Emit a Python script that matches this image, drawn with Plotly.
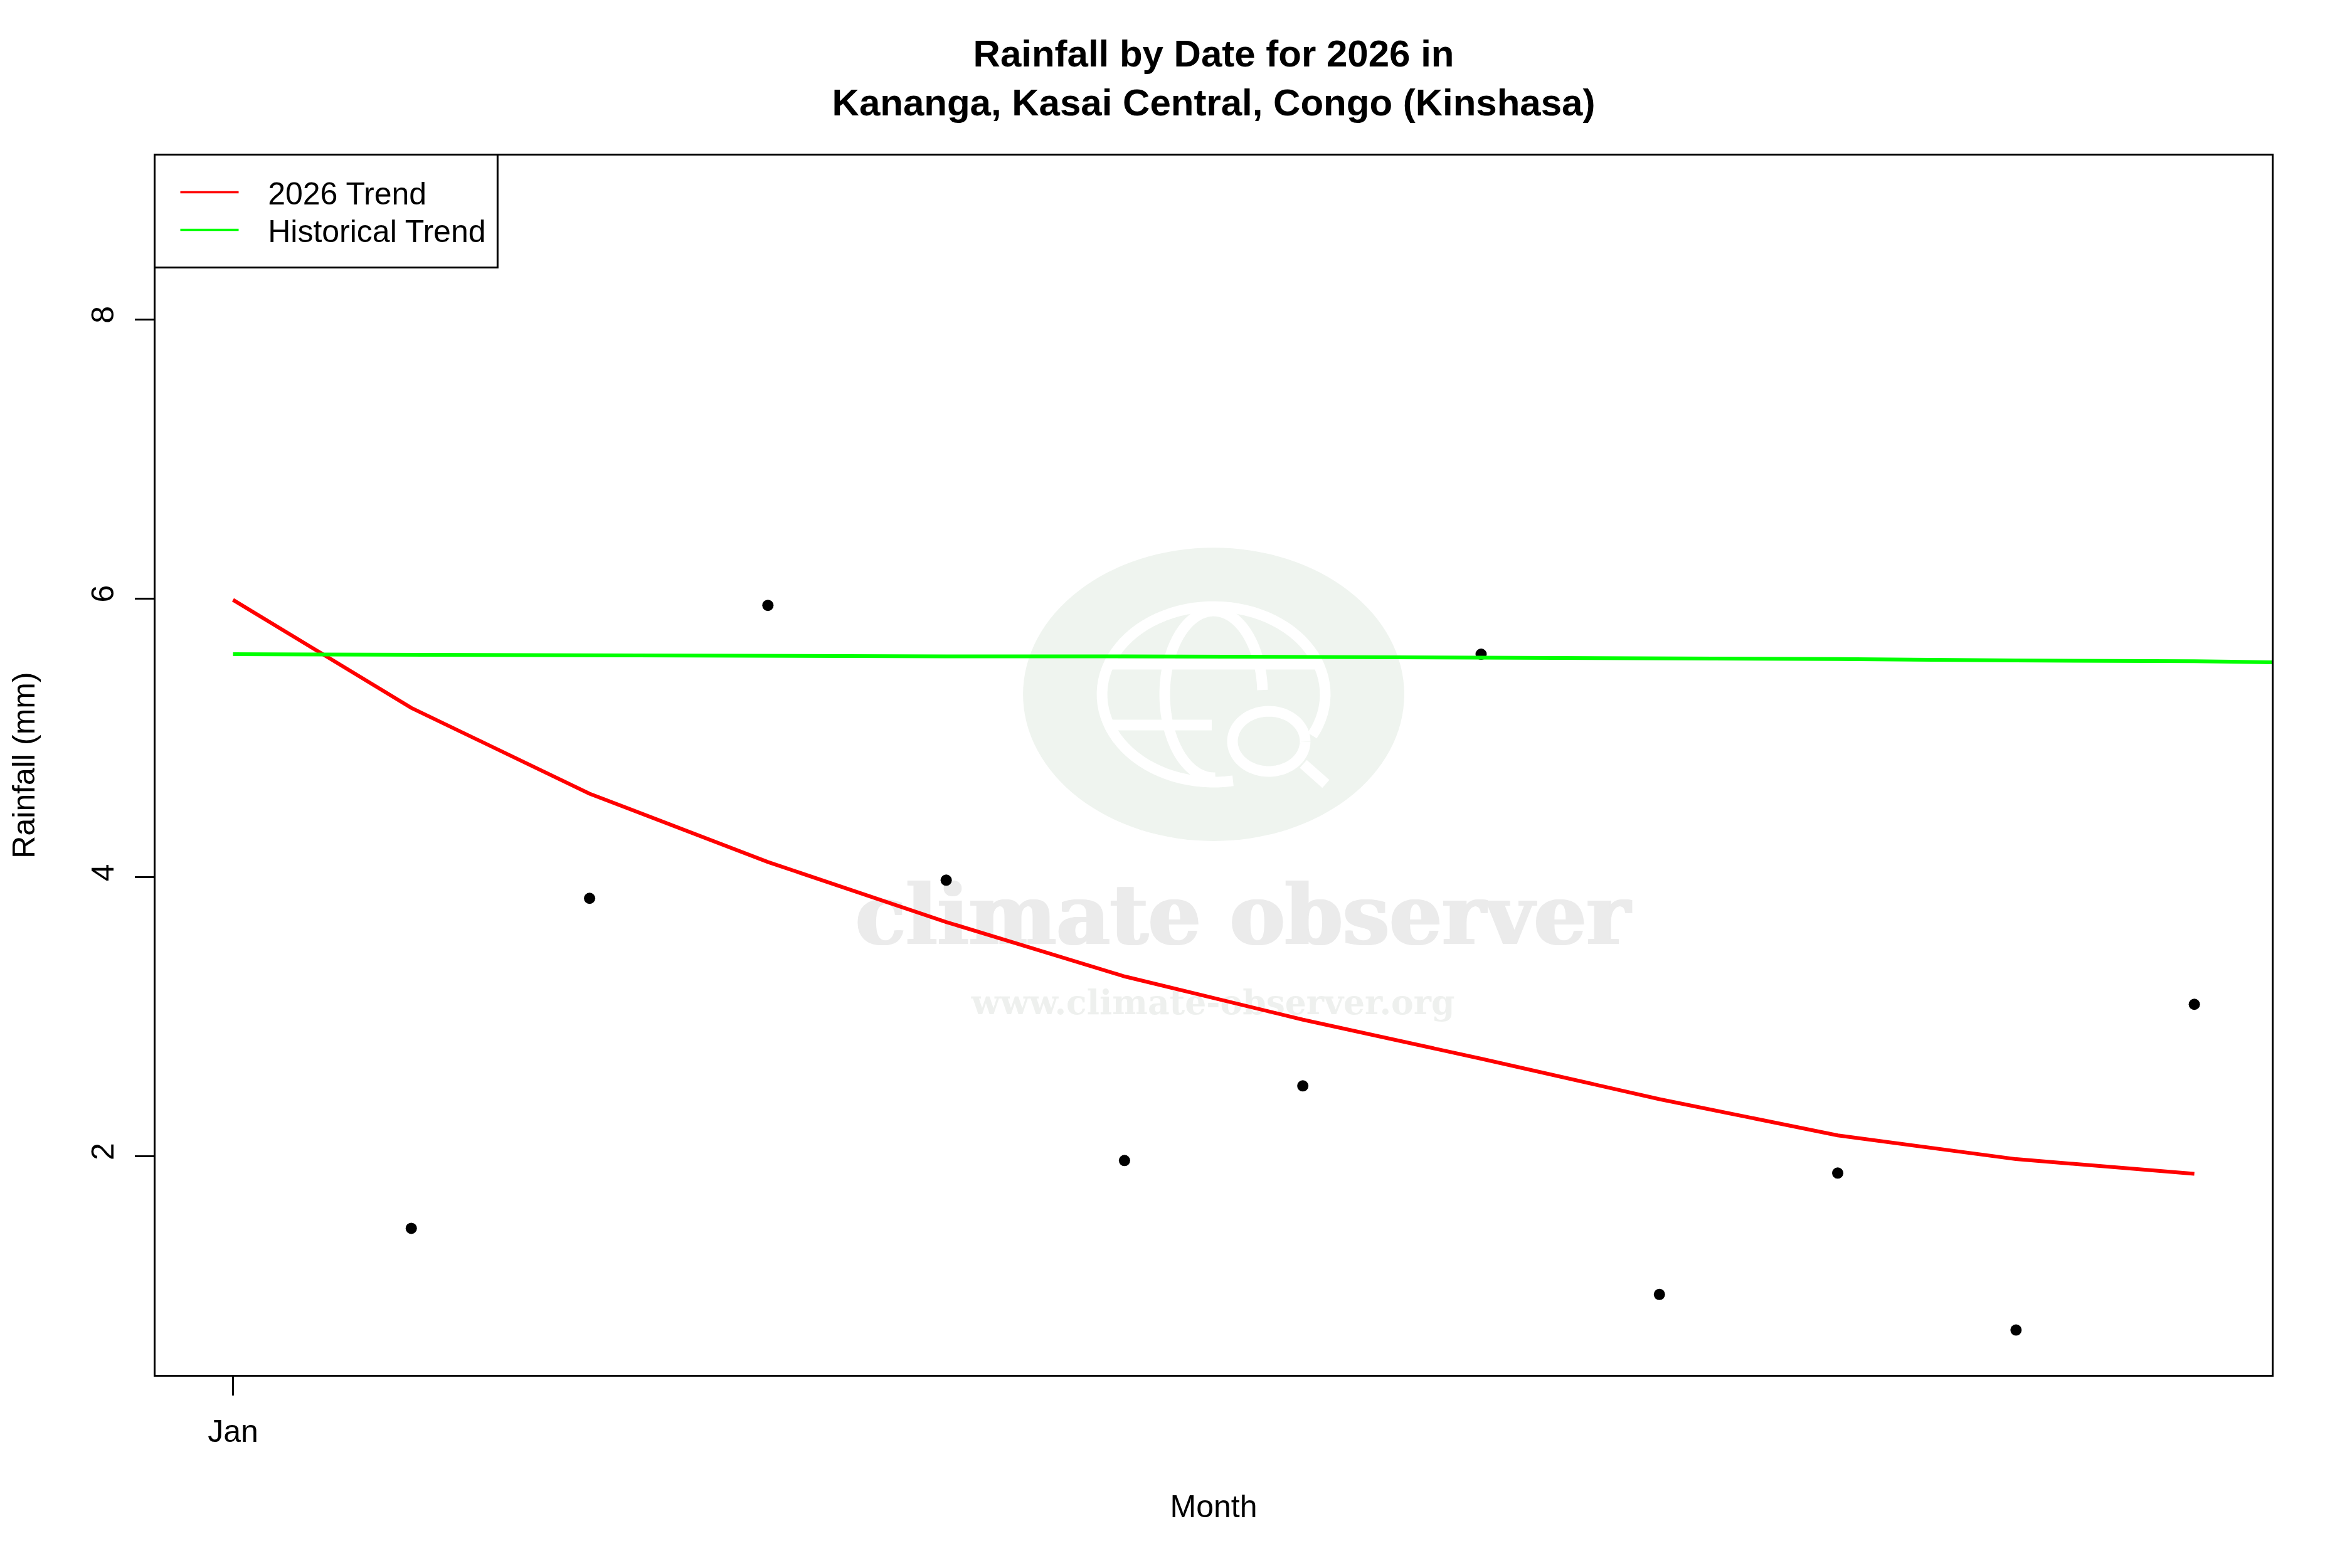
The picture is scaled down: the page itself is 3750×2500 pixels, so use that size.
import numpy as np
import plotly.graph_objects as go

# data
months = [1, 2, 3, 4, 5, 6, 7, 8, 9, 10, 11, 12]
rainfall = [None, 1.484, 3.85, 5.95, 3.98, 1.97, 2.505, 5.60, 1.01, 1.88, 0.755, 3.09]
trend_2026 = [5.99, 5.215, 4.60, 4.11, 3.68, 3.29, 2.98, 2.70, 2.41, 2.15, 1.98, 1.875]
# the historical line runs on past December and gets clipped at the frame
hist_months = [1, 2, 3, 4, 5, 6, 7, 8, 9, 10, 11, 12, 13]
trend_hist = [5.60, 5.595, 5.59, 5.59, 5.585, 5.585, 5.58, 5.58, 5.57, 5.565, 5.555, 5.55, 5.53]
y_ticks = [2, 4, 6, 8]

FONT = 'Liberation Sans'
# axis lines sit just outside the plot area, so the area is 1.5px inside the frame
L, R, T, B = 247.5, 3622.5, 247.5, 2192.5


def px(x):
    return (x - L) / (R - L)


def py(y):
    return (B - y) / (B - T)


def path_from(xs, ys):
    return 'M' + ' L'.join(f'{px(x):.5f},{py(y):.5f}' for x, y in zip(xs, ys))


def arc(cx, cy, rx, ry, a0, a1):
    # angles in degrees, 0 = right, 90 = up
    t = np.radians(np.linspace(a0, a1, 80))
    return path_from(cx + rx * np.cos(t), cy - ry * np.sin(t))


def logo_shapes():
    # watermark logo behind the chart
    cx, cy = 1935, 1107
    shapes = [dict(type='circle', xref='paper', yref='paper', layer='below',
                   x0=px(cx - 304), x1=px(cx + 304), y0=py(cy + 234), y1=py(cy - 234),
                   fillcolor='#eff4ef', line_width=0)]
    strokes = [
        arc(cx, cy, 178, 140, -28, 280),         # globe outline
        arc(cx, cy, 78, 133, 90, 272),           # left meridian
        arc(cx, cy, 78, 133, 90, 3),             # right meridian
        path_from([1772, 2097], [1059, 1059]),   # upper latitude
        path_from([1772, 1932], [1156, 1156]),   # lower latitude
        arc(2023, 1182, 58, 48, 0, 360),         # magnifier
        path_from([2078, 2114], [1218, 1250]),   # handle
    ]
    for p in strokes:
        shapes.append(dict(type='path', xref='paper', yref='paper', layer='below',
                           path=p, line=dict(color='white', width=17)))
    return shapes


def watermark_text(text, x0, x1, y0, y1, size, color, shadow='none'):
    return dict(type='rect', xref='paper', yref='paper', layer='below',
                x0=px(x0), x1=px(x1), y0=py(y1), y1=py(y0),
                line_width=0, fillcolor='rgba(0,0,0,0)',
                label=dict(text=text, textposition='middle center',
                           font=dict(family='DejaVu Serif', size=size, color=color, weight='bold',
                                     shadow=shadow)))


fig = go.Figure()

fig.add_trace(go.Scatter(x=months, y=rainfall, mode='markers', showlegend=False,
                         marker=dict(color='black', size=18)))
fig.add_trace(go.Scatter(x=months, y=trend_2026, mode='lines', showlegend=False,
                         line=dict(color='#ff0000', width=6)))
fig.add_trace(go.Scatter(x=hist_months, y=trend_hist, mode='lines', showlegend=False,
                         line=dict(color='#00ff00', width=6)))

# legend keys are thinner than the plotted lines, each one has its own legend
# so the row spacing can follow the picture
gap = '\u00a0\u00a0\u00a0'
fig.add_trace(go.Scatter(x=[None], y=[None], mode='lines', name=gap + '2026 Trend', legend='legend',
                         line=dict(color='#ff0000', width=3.5)))
fig.add_trace(go.Scatter(x=[None], y=[None], mode='lines', name=gap + 'Historical Trend', legend='legend2',
                         line=dict(color='#00ff00', width=3.5)))

shapes = logo_shapes()
shapes.append(watermark_text('climate observer', 1364, 2599, 1398, 1503, 132, '#ebebeb',
                             '2px 0 #ebebeb, -2px 0 #ebebeb'))
shapes.append(watermark_text('www.climate-observer.org', 1550, 2318, 1573, 1618, 53.5, '#eef0ee'))
# legend box
shapes.append(dict(type='rect', xref='paper', yref='paper', layer='above',
                   x0=px(246), x1=px(793), y0=py(426), y1=py(246), line=dict(color='black', width=3),
                   fillcolor='rgba(0,0,0,0)'))

fig.update_xaxes(range=[0.5657, 12.434], tickvals=[1], ticktext=['Jan'], ticks='outside',
                 ticklen=30, tickwidth=3, tickcolor='black', ticklabelstandoff=14, automargin=False,
                 showline=True, linecolor='black', linewidth=3, mirror=True,
                 showgrid=False, zeroline=False, tickfont=dict(family=FONT, size=50, color='black'),
                 title=dict(text='Month', standoff=75, font=dict(family=FONT, size=50, color='black')))
fig.update_yaxes(range=[0.4337, 9.175], tickvals=y_ticks, ticks='outside', tickangle=-90,
                 ticklen=30, tickwidth=3, tickcolor='black', ticklabelstandoff=14, automargin=False,
                 showline=True, linecolor='black', linewidth=3, mirror=True,
                 showgrid=False, zeroline=False, tickfont=dict(family=FONT, size=50, color='black'),
                 title=dict(text='Rainfall (mm)', standoff=65, font=dict(family=FONT, size=50, color='black')))

legend_style = dict(x=px(282), xanchor='left', yanchor='middle', borderwidth=0,
                    bgcolor='rgba(0,0,0,0)', itemwidth=93,
                    font=dict(family=FONT, size=50, color='black'))

fig.update_layout(
    width=3750, height=2500, autosize=False,
    margin=dict(l=L, r=3750 - R, t=T, b=2500 - B, pad=0),
    paper_bgcolor='white', plot_bgcolor='white',
    title=dict(text='Rainfall by Date for 2026 in<br>Kananga, Kasai Central, Congo (Kinshasa)',
               x=0.516, xanchor='center', y=0.9578, yanchor='middle',
               font=dict(family=FONT, size=60, color='black', weight='bold')),
    legend=dict(y=py(306), **legend_style),
    legend2=dict(y=py(366), **legend_style),
    shapes=shapes,
)

# page margin would push the figure off its position
fig.write_html("out.html", post_script="document.body.style.margin='0';",
               config={'displayModeBar': False})
